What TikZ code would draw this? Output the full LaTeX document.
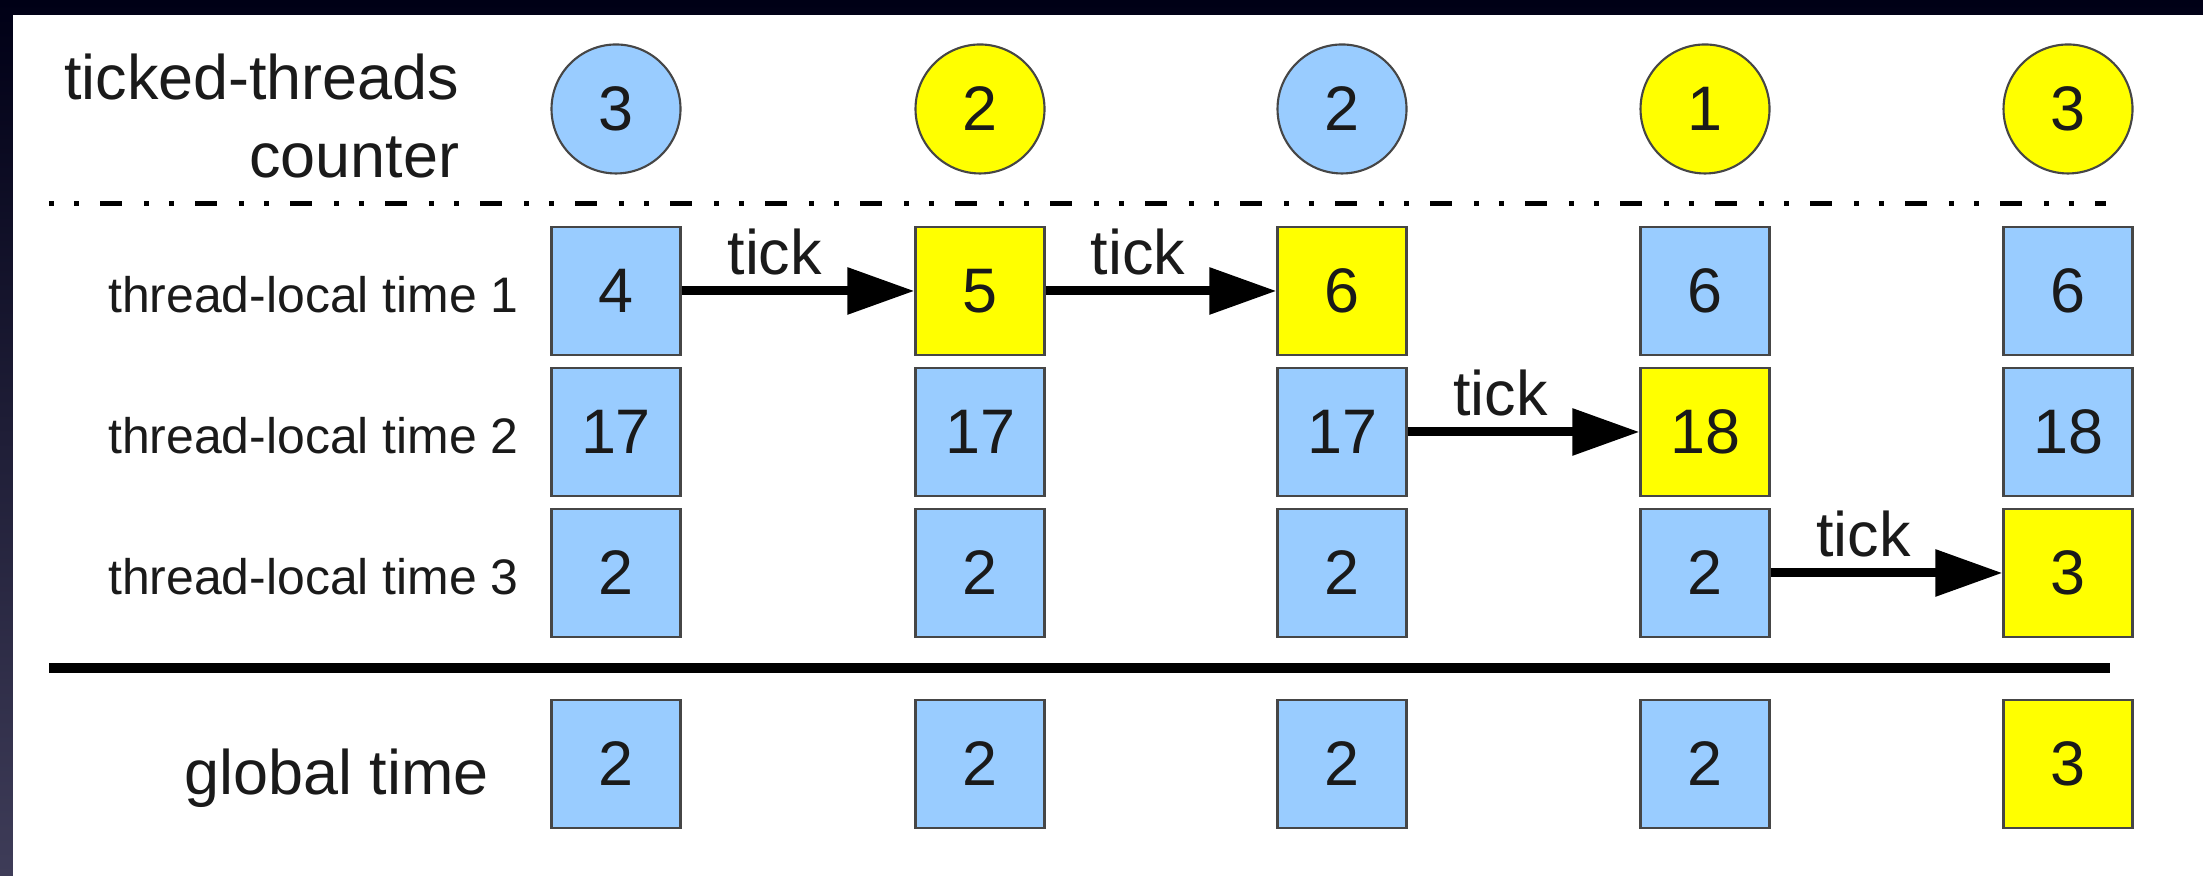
\documentclass[tikz,border=0pt]{standalone}
\usepackage{fontspec}
\setmainfont{Liberation Sans}
\usetikzlibrary{arrows.meta}

\definecolor{cellblue}{RGB}{153,204,255}
\definecolor{cellyellow}{RGB}{255,255,0}
\definecolor{edgegray}{RGB}{70,70,70}
\definecolor{ink}{RGB}{26,26,26}
\definecolor{navytop}{RGB}{0,0,22}
\definecolor{navybot}{RGB}{62,60,88}

\begin{document}
\begin{tikzpicture}[
  big/.style={font=\fontsize{17.9pt}{22.1pt}\selectfont,text=ink},
  small/.style={font=\fontsize{14.2pt}{17pt}\selectfont,text=ink},
  cell/.style={big,draw=edgegray,line width=0.6pt,minimum width=1.29cm,minimum height=1.28cm,inner sep=0pt},
  bluecell/.style={cell,fill=cellblue},
  yellowcell/.style={cell,fill=cellyellow},
  bluectr/.style={bluecell,circle,minimum size=1.29cm},
  yellowctr/.style={yellowcell,circle,minimum size=1.29cm},
  tickarrow/.style={-{Triangle[length=0.67cm,width=0.45cm]},line width=0.09cm},
  ticklbl/.style={big,above,pos=0.4,inner sep=0.11cm}
]
  % slide frame
  \shade[top color=navytop,bottom color=navybot] (0,0) rectangle (22.03,8.76);
  \fill[white] (0.13,0) rectangle (22.03,8.61);

  % counters
  \node[bluectr]   (c1) at (6.16,7.67) {3};
  \node[yellowctr] (c2) at (9.80,7.67) {2};
  \node[bluectr]   (c3) at (13.42,7.67) {2};
  \node[yellowctr] (c4) at (17.05,7.67) {1};
  \node[yellowctr] (c5) at (20.68,7.67) {3};
  \node[big,align=right,anchor=east,inner sep=0pt] (ctrlbl) at (4.60,7.60) {ticked-threads\\counter};

  \draw[line width=0.05cm,dash pattern=on 0.05cm off 0.2cm on 0.05cm off 0.21cm on 0.22cm off 0.22cm]
       (0.49,6.72) -- (21.06,6.72);

  % thread 1
  \node[bluecell]   (t11) at (6.16,5.85) {4};
  \node[yellowcell] (t12) at (9.80,5.85) {5};
  \node[yellowcell] (t13) at (13.42,5.85) {6};
  \node[bluecell]   (t14) at (17.05,5.85) {6};
  \node[bluecell]   (t15) at (20.68,5.85) {6};
  % thread 2
  \node[bluecell]   (t21) at (6.16,4.44) {17};
  \node[bluecell]   (t22) at (9.80,4.44) {17};
  \node[bluecell]   (t23) at (13.42,4.44) {17};
  \node[yellowcell] (t24) at (17.05,4.44) {18};
  \node[bluecell]   (t25) at (20.68,4.44) {18};
  % thread 3
  \node[bluecell]   (t31) at (6.16,3.03) {2};
  \node[bluecell]   (t32) at (9.80,3.03) {2};
  \node[bluecell]   (t33) at (13.42,3.03) {2};
  \node[bluecell]   (t34) at (17.05,3.03) {2};
  \node[yellowcell] (t35) at (20.68,3.03) {3};

  \node[small,anchor=base east,inner sep=0pt] (lbl1) at ([xshift=-0.31cm]t11.base west) {thread-local time 1};
  \node[small,anchor=base east,inner sep=0pt] (lbl2) at ([xshift=-0.31cm]t21.base west) {thread-local time 2};
  \node[small,anchor=base east,inner sep=0pt] (lbl3) at ([xshift=-0.31cm]t31.base west) {thread-local time 3};

  \draw[tickarrow] (t11) -- node[ticklbl] {tick} (t12);
  \draw[tickarrow] (t12) -- node[ticklbl] {tick} (t13);
  \draw[tickarrow] (t23) -- node[ticklbl] {tick} (t24);
  \draw[tickarrow] (t34) -- node[ticklbl] {tick} (t35);

  \draw[line width=0.095cm] (0.49,2.08) -- (21.10,2.08);

  % global time
  \node[bluecell]   (g1) at (6.16,1.12) {2};
  \node[bluecell]   (g2) at (9.80,1.12) {2};
  \node[bluecell]   (g3) at (13.42,1.12) {2};
  \node[bluecell]   (g4) at (17.05,1.12) {2};
  \node[yellowcell] (g5) at (20.68,1.12) {3};
  \node[big,anchor=base east,inner sep=0pt] (glbl) at ([xshift=-0.61cm,yshift=-0.09cm]g1.base west) {global time};
\end{tikzpicture}
\end{document}
